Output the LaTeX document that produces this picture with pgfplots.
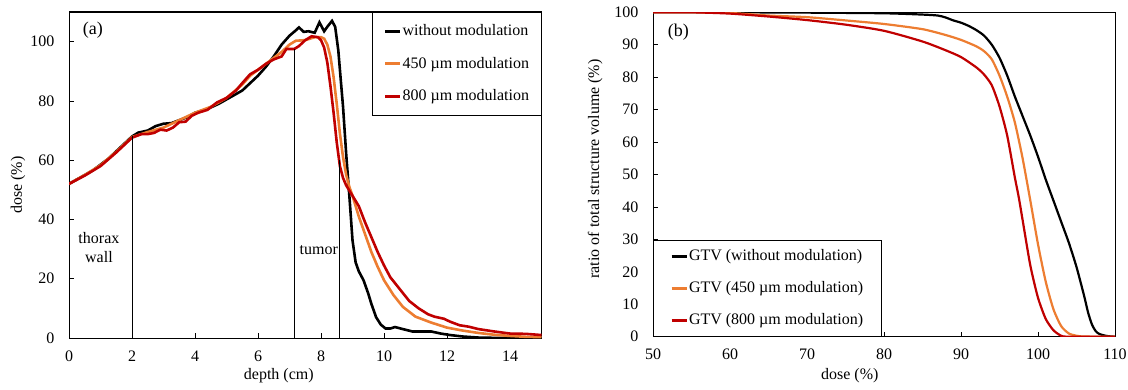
\documentclass[border=0pt]{standalone}
\usepackage{fontspec}
\setmainfont{Liberation Serif}
\usepackage{pgfplots}
\pgfplotsset{compat=1.18}
\definecolor{cOr}{RGB}{237,125,49}
\definecolor{cRd}{RGB}{192,0,0}
\begin{document}
\fontsize{16}{19}\selectfont
\begin{tikzpicture}
\useasboundingbox (0pt,0pt) rectangle (1128pt,389pt);
\pgfplotsset{
  common/.style={
    scale only axis, anchor=south west,
    tick align=inside, xtick pos=bottom, ytick pos=left,
    major tick length=5pt, tick style={black, line width=0.8pt},
    axis line style={line width=1pt},
    /pgf/number format/assume math mode=true,
    tick label style={font=\fontsize{16}{19}\selectfont},
    label style={font=\fontsize{16}{19}\selectfont},
    yticklabel style={xshift=-9pt},
    xticklabel style={yshift=-7pt},
    legend cell align=left,
    legend style={font=\fontsize{16}{19}\selectfont, draw=black, line width=0.8pt,
      row sep=19pt, inner xsep=10pt, inner ysep=12pt,
      nodes={inner xsep=1pt, inner ysep=0pt}},
    legend image code/.code={\draw[#1, line width=3pt] (0pt,0pt) -- (15pt,0pt);},
  }
}
% ---------------- panel (a)
\begin{axis}[common,
  at={(69pt,51pt)}, width=472.5pt, height=326pt,
  xmin=0, xmax=15, ymin=0, ymax=110,
  xtick={0,2,...,14}, ytick={0,20,...,100},
  xlabel={depth (cm)}, ylabel={dose (\%)},
  every axis x label/.style={at={(axis description cs:0.444,-0.117)}, anchor=center},
  every axis y label/.style={at={(axis description cs:-0.108,0.469)}, rotate=90, anchor=center},
  legend style={at={(1,1)}, anchor=north east, inner xsep=11pt},
]
\addplot[black, line width=2.6pt] coordinates {
(0,52)(0.25,53.5)(0.5,55)(0.75,56.5)(1,58.5)(1.25,60.5)(1.5,63)(1.75,65.5)(2,68)
(2.2,69.3)(2.5,70)(2.75,71.5)(3,72.3)(3.25,72.5)(3.5,73.5)(3.75,74.5)(4,76)
(4.25,76.8)(4.5,77.8)(4.75,79)(5,80.5)(5.25,82)(5.5,83.5)(5.75,86)(6,88.5)
(6.25,91.5)(6.5,95)(6.75,99)(7,102)(7.2,103.8)(7.3,104.8)(7.45,103.3)(7.6,103.5)
(7.8,103)(7.95,106.5)(8.1,103.5)(8.2,105)(8.35,107)(8.45,105)(8.55,97)(8.62,88)
(8.7,78)(8.8,62)(8.9,48)(9.0,33)(9.1,25.5)(9.2,22.5)(9.35,19.5)(9.5,15)(9.6,11.5)
(9.75,7)(9.9,4.5)(10.05,3.2)(10.2,3.2)(10.35,3.7)(10.6,3)(10.9,2.2)(11.2,2.2)
(11.5,2.2)(11.8,1.5)(12.1,1)(12.5,0.5)(13,0.15)(13.5,0.05)(14,0)(15,0)};
\addlegendentry{without modulation}
\addplot[cOr, line width=2.6pt] coordinates {
(0,52)(0.5,55)(1,58.3)(1.5,62.8)(2,67.8)(2.5,69.5)(3,71)(3.5,73.5)(4,76)(4.5,78)
(5,81)(5.5,85.5)(5.75,88.5)(6,90.5)(6.25,92.5)(6.5,94.5)(6.75,96.5)(7,99)(7.2,100.3)
(7.5,100.5)(7.8,101.5)(8.0,101.5)(8.1,101)(8.2,99)(8.3,95)(8.4,88)(8.5,79)(8.6,69)
(8.7,61)(8.8,55)(8.9,51)(9.0,48)(9.2,41)(9.4,35)(9.6,29)(9.8,24)(10,19.5)(10.3,14.5)
(10.6,10.5)(11,7.2)(11.5,5.2)(12,3.5)(12.5,2.5)(13,1.7)(13.5,1.1)(14,0.7)(14.5,0.4)(15,0.3)};
\addlegendentry{450 µm modulation}
\addplot[cRd, line width=2.6pt] coordinates {
(0,52)(0.5,54.8)(1,58)(1.5,62.6)(2,67.6)(2.3,68.8)(2.5,68.8)(2.7,69.2)(2.9,70.3)
(3.1,70)(3.3,71)(3.5,72.8)(3.7,73)(3.9,75)(4.1,76)(4.4,77)(4.7,79.5)(5,81)(5.3,83.5)
(5.5,86)(5.75,89)(6,90.5)(6.25,92.5)(6.5,94)(6.75,95)(6.9,97.5)(7.15,97.5)(7.3,98.5)
(7.5,100.5)(7.7,101.8)(7.9,101.5)(8.0,100.5)(8.1,98)(8.2,93)(8.3,85)(8.4,76)(8.5,66)
(8.6,58)(8.7,54)(8.8,51.5)(9.0,48)(9.2,44.5)(9.4,39)(9.6,34)(9.8,29)(10,24.5)
(10.2,20.5)(10.5,16.5)(10.8,12.5)(11.1,10)(11.4,8)(11.6,7.2)(11.9,6.5)(12.1,5.5)
(12.4,4.3)(12.7,3.8)(13,3)(13.5,2.2)(14,1.5)(14.5,1.4)(15,1)};
\addlegendentry{800 µm modulation}
\addplot[black, line width=1pt, forget plot] coordinates {(2,0)(2,68)};
\addplot[black, line width=1pt, forget plot] coordinates {(7.15,0)(7.15,97.5)};
\addplot[black, line width=1pt, forget plot] coordinates {(8.6,0)(8.6,60)};
\node[font=\fontsize{18}{20}\selectfont] at (axis cs:0.76,104) {(a)};
\node[align=center, font=\fontsize{16}{18.5}\selectfont] at (axis cs:0.95,30.5) {thorax\\wall};
\node at (axis cs:7.93,29.8) {tumor};
\end{axis}
% ---------------- panel (b)
\begin{axis}[common,
  at={(653pt,52.3pt)}, width=462pt, height=324.4pt,
  xmin=50, xmax=110, ymin=0, ymax=100,
  xtick={50,60,...,110}, ytick={0,10,...,100},
  xlabel={dose (\%)}, ylabel={ratio of total structure volume (\%)},
  every axis x label/.style={at={(axis description cs:0.426,-0.12)}, anchor=center},
  every axis y label/.style={at={(axis description cs:-0.125,0.517)}, rotate=90, anchor=center},
  legend style={at={(0,0)}, anchor=south west, inner xsep=17pt, inner ysep=9pt, row sep=18.5pt},
  legend image code/.code={\draw[#1, line width=2.6pt] (0pt,0pt) -- (15pt,0pt);},
]
\addplot[black, line width=2.2pt, smooth, tension=0.4] coordinates {
(50,100)(60,100)(70,99.9)(80,99.7)(85,99.3)(87,99)(88,98.4)(89,97.5)(90,96.8)
(91,95.8)(92,94.5)(93,92.8)(94,90)(95,86)(96,80.5)(97,74)(98,68)(99,62)(100,55.5)
(101,48.5)(102,42)(103,35.5)(104,29)(105,21.5)(106,12.5)(106.5,7.5)(107,3.8)
(107.5,1.7)(108,0.8)(109,0.2)(110,0)};
\addlegendentry{GTV (without modulation)}
\addplot[cOr, line width=2.2pt, smooth, tension=0.4] coordinates {
(50,100)(55,100)(60,99.8)(65,99)(70,98.5)(75,97.5)(80,96.4)(85,94.8)(88,93)(90,91.5)
(92,89.5)(93,88)(94,85.5)(95,80.5)(96,74)(97,66)(98,55)(99,42)(100,28.5)(101,17)
(102,8.5)(103,3.3)(104,1)(105,0.3)(106,0.05)(110,0)};
\addlegendentry{GTV (450 µm modulation)}
\addplot[cRd, line width=2.2pt, smooth, tension=0.4] coordinates {
(50,100)(55,100)(60,99.6)(65,98.7)(70,97.6)(75,96.2)(80,94.3)(85,91)(88,88.3)
(90,86.2)(92,83)(93,80.8)(94,77.5)(95,71)(96,62)(97,49)(97.5,43)(98,36)(99,22)
(100,12)(101,5.5)(102,2)(103,0.3)(104,0)(110,0)};
\addlegendentry{GTV (800 µm modulation)}
\node[font=\fontsize{18}{20}\selectfont] at (axis cs:53.3,94) {(b)};
\end{axis}
\end{tikzpicture}
\end{document}
